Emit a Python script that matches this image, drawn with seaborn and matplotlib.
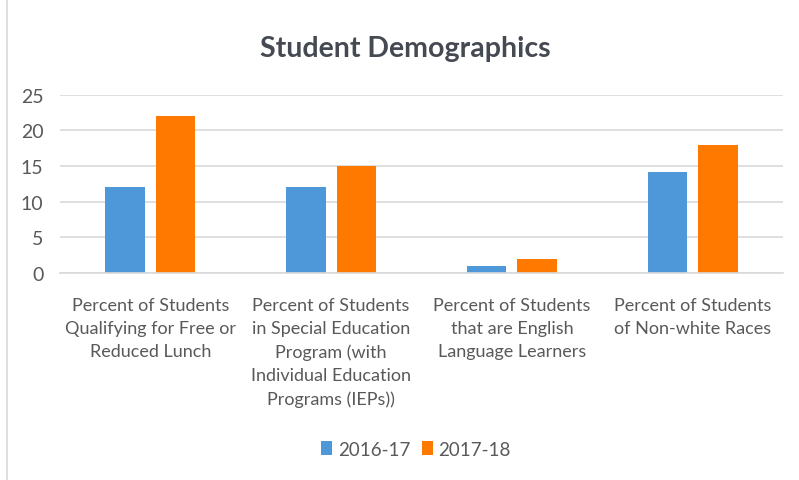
import numpy as np
import pandas as pd
import seaborn as sns
import matplotlib.pyplot as plt
from matplotlib.lines import Line2D
from matplotlib.patches import Patch

# data
categories = [
    "Percent of Students\nQualifying for Free or\nReduced Lunch",
    "Percent of Students\nin Special Education\nProgram (with\nIndividual Education\nPrograms (IEPs))",
    "Percent of Students\nthat are English\nLanguage Learners",
    "Percent of Students\nof Non-white Races",
]
years = ["2016-17", "2017-18"]
values_2016 = [12, 12, 1, 14.2]
values_2017 = [22, 15, 2, 18]

colors = ["#4E97D8", "#FF7800"]
text_color = "#595959"

df = pd.DataFrame({
    "category": categories * 2,
    "year": [years[0]] * 4 + [years[1]] * 4,
    "value": values_2016 + values_2017,
})

sns.set_theme(style="white")
plt.rcParams["font.family"] = ["Lato", "DejaVu Sans"]

fig = plt.figure(figsize=(7.99, 4.81), dpi=100)
ax = fig.add_axes([60 / 799, 1 - 274 / 481, (783 - 60) / 799, (274 - 95.7) / 481])

sns.barplot(data=df, x="category", y="value", hue="year", palette=colors,
            width=0.56, gap=0.22, ax=ax, legend=False, saturation=1,
            edgecolor="none")

ax.set_ylim(0, 25)
ax.set_xlim(-0.5, 3.5)
ax.set_yticks(range(0, 26, 5))
ax.yaxis.grid(True, color="#D9D9D9", linewidth=1.2)
ax.set_axisbelow(True)
for s in ["top", "right", "left"]:
    ax.spines[s].set_visible(False)
ax.spines["bottom"].set_color("#D9D9D9")
ax.spines["bottom"].set_linewidth(1.2)
ax.set_xlabel("")
ax.set_ylabel("")
ax.tick_params(axis="y", length=0, pad=12, labelsize=14, labelcolor=text_color)
ax.tick_params(axis="x", length=0, pad=17, labelsize=13, labelcolor=text_color)
for lbl in ax.get_xticklabels():
    lbl.set_linespacing(1.55)

fig.text(405 / 799, 1 - 49 / 481, "Student Demographics", ha="center", va="center",
         fontsize=20.5, fontweight="bold", color="#454A52")

handles = [Patch(facecolor=c, edgecolor="none") for c in colors]
fig.legend(handles, years, loc="center", bbox_to_anchor=(416 / 799, 1 - 450 / 481),
           ncol=2, frameon=False, fontsize=13.5, labelcolor=text_color,
           handlelength=0.6, handleheight=0.8, handletextpad=0.3, columnspacing=0.6)

# chart frame line on the left edge
fig.add_artist(Line2D([7 / 799, 7 / 799], [0, 1], color="#D9D9D9", linewidth=1.2))

fig.savefig("out.png", dpi=100)
